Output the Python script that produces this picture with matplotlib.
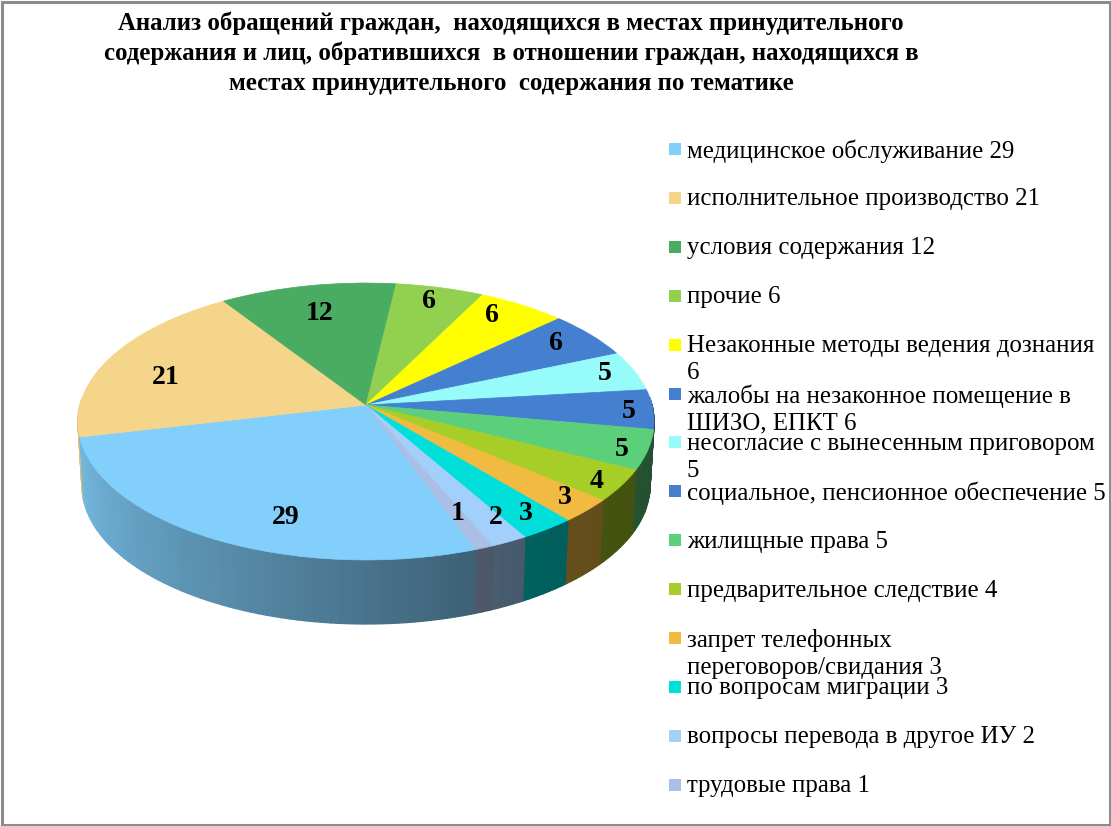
import numpy as np
import matplotlib
matplotlib.use('Agg')
import matplotlib.pyplot as plt
from matplotlib.colors import to_rgb
from matplotlib.patches import Rectangle
from matplotlib.transforms import Transform

plt.rcParams['font.family'] = ['Liberation Serif', 'DejaVu Serif']

title = ('Анализ обращений граждан,  находящихся в местах принудительного\n'
         'содержания и лиц, обратившихся  в отношении граждан, находящихся в\n'
         'местах принудительного  содержания по тематике')

values = [29, 21, 12, 6, 6, 6, 5, 5, 5, 4, 3, 3, 2, 1]
legend_labels = [
    'медицинское обслуживание 29',
    'исполнительное производство 21',
    'условия содержания 12',
    'прочие 6',
    'Незаконные методы ведения дознания\n6',
    'жалобы на незаконное помещение в\nШИЗО, ЕПКТ 6',
    'несогласие с вынесенным приговором\n5',
    'социальное, пенсионное обеспечение 5',
    'жилищные права 5',
    'предварительное следствие 4',
    'запрет телефонных\nпереговоров/свидания 3',
    'по вопросам миграции 3',
    'вопросы перевода в другое ИУ 2',
    'трудовые права 1',
]
colors = ['#82CFFB', '#F5D58A', '#4AAB62', '#92D050', '#FFFF00', '#4580D0', '#96FBF9',
          '#4580D0', '#5CCF7B', '#A6CE26', '#F1BB41', '#00DFDA', '#A3CFFB', '#A9BFE5']

# where the value labels sit on the picture, in pixels
label_x = [286, 166, 320, 429, 492, 556, 605, 629, 622, 597, 565, 526, 496, 458]
label_y = [517, 378, 314, 302, 315, 343, 374, 411, 449, 482, 497, 514, 517, 514]


class TiltTransform(Transform):
    # unit circle -> ellipse in pixels, with a bit of perspective
    input_dims = 2
    output_dims = 2
    is_separable = False
    has_inverse = False

    def __init__(self, x0, y0, rx, ry, k):
        super().__init__()
        self.x0, self.y0, self.rx, self.ry, self.k = x0, y0, rx, ry, k

    def transform_non_affine(self, values):
        xy = np.asarray(values, dtype=float)
        d = 1 + self.k * xy[:, 1]
        return np.column_stack([self.x0 + self.rx * xy[:, 0] / d,
                                self.y0 - self.ry * xy[:, 1] / d])


W, H = 1111, 826
fig = plt.figure(figsize=(W / 100, H / 100), dpi=100, facecolor='white')
ax = fig.add_axes([0, 0, 1, 1])

wedges, _ = ax.pie(values, colors=colors, startangle=289.87, counterclock=False)
ax.set_aspect('auto')
ax.set_xlim(0, W)
ax.set_ylim(H, 0)
ax.axis('off')

top = TiltTransform(366, 405, 286, 136.5, 0.119)
bottom = TiltTransform(366, 469, 282, 136.5, 0.119)
for w, col in zip(wedges, colors):
    w.set_transform(top + ax.transData)
    w.set_edgecolor(col)
    w.set_linewidth(0.5)
    w.set_zorder(3)


def wall_shade(theta):
    return np.interp(theta, [180, 193, 270, 295, 320, 360], [0.92, 0.9, 0.56, 0.44, 0.41, 0.38])


# side wall of the disc, cut in thin strips so the shading can run along it
strips = []
for w, col in zip(wedges, colors):
    edges = np.arange(w.theta1, w.theta2, 1.5)
    edges = np.append(edges, w.theta2)
    rgb = np.array(to_rgb(col))
    for a, b in zip(edges[:-1], edges[1:]):
        mid = (a + b) / 2 % 360
        if np.sin(np.radians(mid)) > 0.05:
            continue
        arc = np.radians([a, b])
        unit = np.column_stack([np.cos(arc), np.sin(arc)])
        poly = np.vstack([top.transform_non_affine(unit), bottom.transform_non_affine(unit)[::-1]])
        strips.append((np.sin(np.radians(mid)), poly, rgb * wall_shade(mid)))

for _, poly, shade in sorted(strips, key=lambda s: -s[0]):
    ax.fill(poly[:, 0], poly[:, 1], color=shade, linewidth=1.0, zorder=1)

for x, y, v in zip(label_x, label_y, values):
    ax.text(x, y, str(v), ha='center', va='center', fontsize=20, fontweight='bold', color='black', zorder=5)

ax.text(511, 53, title, ha='center', va='center', fontsize=17.9, fontweight='bold',
        linespacing=1.36, color='black')

# legend rows are spaced evenly, long labels run into the next row like in the original
for i, (lab, col) in enumerate(zip(legend_labels, colors)):
    row = 149 + i * 48.9
    ax.add_patch(Rectangle((669, row - 6), 12, 12, facecolor=col, edgecolor='none'))
    ax.text(687, row - 9.5, lab, ha='left', va='top', fontsize=17.9, color='black', linespacing=1.31)

ax.add_patch(Rectangle((1.5, 1.5), W - 3, H - 3, facecolor='none', edgecolor='#8C8C8C', linewidth=2.2, clip_on=False))

fig.savefig('out.png', dpi=100)
